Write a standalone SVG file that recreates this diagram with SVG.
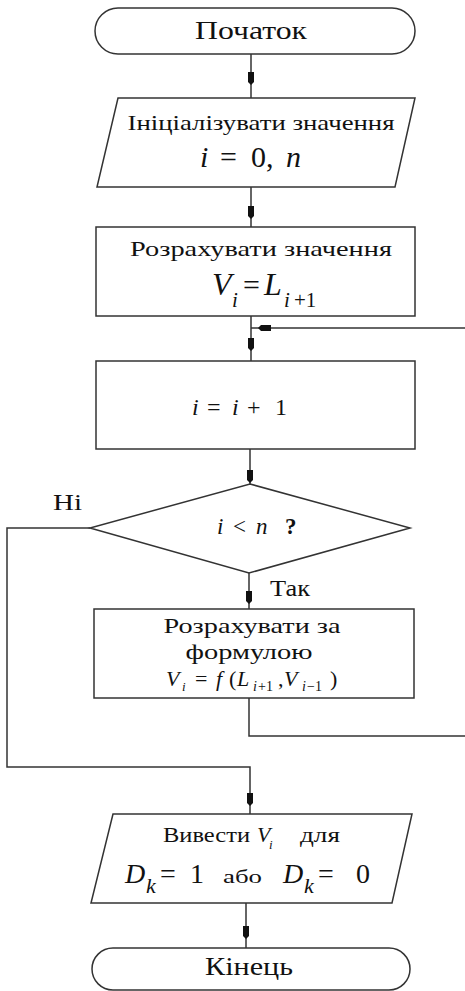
<svg xmlns="http://www.w3.org/2000/svg" xmlns:xlink="http://www.w3.org/1999/xlink" width="465" height="991" viewBox="0 0 465 991">
<style>
.sh{fill:#fff;stroke:#333;stroke-width:1.5}
.ln{fill:none;stroke:#333;stroke-width:1.5}
text{fill:#111;font-family:"Liberation Serif","Times New Roman",serif}
.c{text-anchor:middle}
.m{font-style:italic}
</style>
<defs>
<path id="ah" d="M-3,-12 L3,-12 L3,-2 L0,1 L-3,-2 Z" fill="#111"/>
</defs>
<rect width="465" height="991" fill="#fff"/>
<g id="connectors">
<path class="ln" d="M251,54 V98"/>
<path class="ln" d="M251,187 V227"/>
<path class="ln" d="M251,316 V361"/>
<path class="ln" d="M465,328 H251"/>
<path class="ln" d="M250,449 V484"/>
<path class="ln" d="M249,573 V609"/>
<path class="ln" d="M249,698 V736 H465"/>
<path class="ln" d="M90,528 H7 V767 H250 V814"/>
<path class="ln" d="M246,903 V948"/>
<use xlink:href="#ah" x="251" y="84"/>
<use xlink:href="#ah" x="251" y="218"/>
<use xlink:href="#ah" x="251" y="350"/>
<use xlink:href="#ah" transform="translate(259,328) rotate(90)"/>
<use xlink:href="#ah" x="250" y="482"/>
<use xlink:href="#ah" x="249" y="603"/>
<use xlink:href="#ah" x="250" y="805"/>
<use xlink:href="#ah" x="246" y="938"/>
</g>
<g id="start">
<rect class="sh" x="95" y="8" width="320" height="46" rx="23" ry="23"/>
<text x="251" y="39" class="c" font-size="26" textLength="112" lengthAdjust="spacingAndGlyphs">Початок</text>
</g>
<g id="init">
<polygon class="sh" points="118,98 415,98 395,187 97,187"/>
<text x="261" y="130" class="c" font-size="21" textLength="267" lengthAdjust="spacingAndGlyphs">Ініціалізувати значення</text>
<text y="167" font-size="30"><tspan x="200" class="m">i</tspan><tspan x="220">=</tspan><tspan x="251">0,</tspan><tspan x="286" class="m">n</tspan></text>
</g>
<g id="calc1">
<rect class="sh" x="96" y="227" width="319" height="89"/>
<text x="261" y="256" class="c" font-size="21" textLength="262" lengthAdjust="spacingAndGlyphs">Розрахувати значення</text>
<text font-size="32"><tspan x="212" y="295" class="m">V</tspan><tspan x="232" y="307" class="m" font-size="21">i</tspan><tspan x="243" y="295" font-size="30">=</tspan><tspan x="264" y="295" class="m">L</tspan><tspan x="284" y="307" class="m" font-size="21">i</tspan><tspan x="294" y="307" font-size="21">+1</tspan></text>
</g>
<g id="inc">
<rect class="sh" x="96" y="361" width="319" height="88"/>
<text y="415" font-size="24"><tspan x="192" class="m">i</tspan><tspan x="207">=</tspan><tspan x="232" class="m">i</tspan><tspan x="247">+</tspan><tspan x="275">1</tspan></text>
</g>
<g id="cond">
<polygon class="sh" points="250,484 410,528 249,573 90,528"/>
<text y="534" font-size="23"><tspan x="217" class="m">i</tspan><tspan x="233">&lt;</tspan><tspan x="256" class="m">n</tspan><tspan x="285" font-weight="bold">?</tspan></text>
<text x="53" y="510" font-size="24" textLength="29" lengthAdjust="spacingAndGlyphs">Ні</text>
<text x="270" y="596" font-size="24" textLength="40" lengthAdjust="spacingAndGlyphs">Так</text>
</g>
<g id="calc2">
<rect class="sh" x="94" y="609" width="320" height="89"/>
<text x="252" y="633" class="c" font-size="21" textLength="177" lengthAdjust="spacingAndGlyphs">Розрахувати за</text>
<text x="249" y="659" class="c" font-size="21" textLength="127" lengthAdjust="spacingAndGlyphs">формулою</text>
<text font-size="22"><tspan x="166" y="686" class="m">V</tspan><tspan x="182" y="691" class="m" font-size="13">i</tspan><tspan x="195" y="686">=</tspan><tspan x="216" y="686" class="m">f</tspan><tspan x="229" y="686">(</tspan><tspan x="237" y="686" class="m">L</tspan><tspan x="253" y="691" class="m" font-size="14">i</tspan><tspan x="258" y="691" font-size="14">+1</tspan><tspan x="278" y="686">,</tspan><tspan x="284" y="686" class="m">V</tspan><tspan x="302" y="691" class="m" font-size="14">i</tspan><tspan x="307" y="691" font-size="14">−1</tspan><tspan x="330" y="686">)</tspan></text>
</g>
<g id="output">
<polygon class="sh" points="113,814 412,814 392,903 91,903"/>
<text x="163" y="842" font-size="21" textLength="87" lengthAdjust="spacingAndGlyphs">Вивести</text>
<text font-size="22"><tspan x="257" y="842" class="m">V</tspan><tspan x="269" y="849" class="m" font-size="13">i</tspan></text>
<text x="300" y="842" font-size="21" textLength="40" lengthAdjust="spacingAndGlyphs">для</text>
<text y="883" font-size="28"><tspan x="125" class="m">D</tspan><tspan x="146" y="893" class="m" font-size="22">k</tspan><tspan x="160" y="883">=</tspan><tspan x="190">1</tspan></text>
<text x="223" y="883" font-size="19" textLength="39" lengthAdjust="spacingAndGlyphs">або</text>
<text y="883" font-size="28"><tspan x="283" class="m">D</tspan><tspan x="304" y="893" class="m" font-size="22">k</tspan><tspan x="318" y="883">=</tspan><tspan x="356">0</tspan></text>
</g>
<g id="end">
<rect class="sh" x="92" y="948" width="318" height="42" rx="21" ry="21"/>
<text x="249" y="975" class="c" font-size="25" textLength="88" lengthAdjust="spacingAndGlyphs">Кінець</text>
</g>
</svg>
